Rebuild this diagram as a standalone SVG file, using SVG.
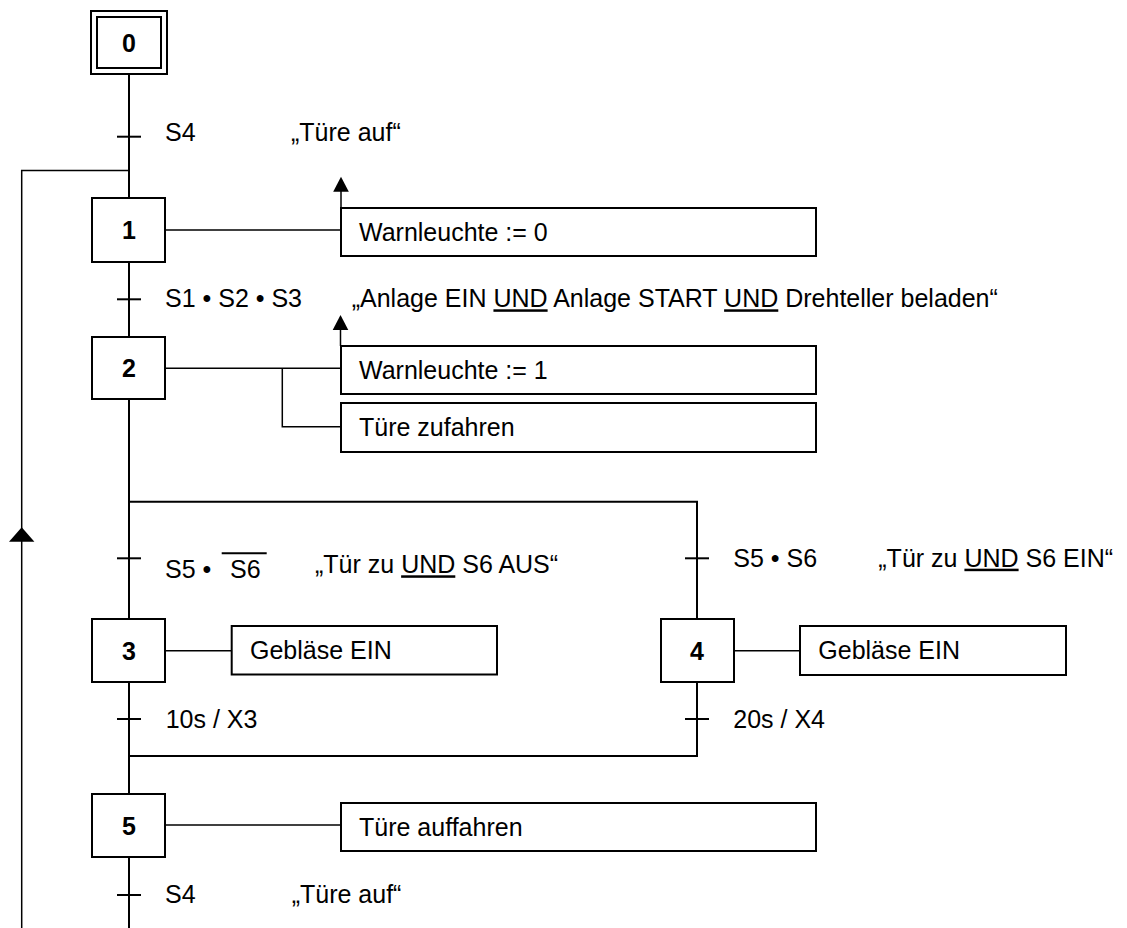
<svg xmlns="http://www.w3.org/2000/svg" width="1127" height="928" viewBox="0 0 1127 928">
<style>
  text { font-family: "Liberation Sans", Arial, sans-serif; font-size: 25px; fill: #000; }
  .num { font-weight: bold; text-anchor: middle; }
  .box { fill: #fff; stroke: #000; stroke-width: 2; }
  .main { fill: none; stroke: #000; stroke-width: 2; }
  .thin { fill: none; stroke: #000; stroke-width: 1.5; }
  .u { text-decoration: underline; }
</style>
<defs>
  <marker id="arr" viewBox="0 0 16 15" refX="8" refY="0" markerWidth="16" markerHeight="15" markerUnits="userSpaceOnUse" orient="auto-start-reverse">
    <path d="M0,15 L8,0 L16,15 Z" fill="#000"/>
  </marker>
</defs>
<rect width="1127" height="928" fill="#fff"/>

<g id="connectors">
  <!-- main vertical chain -->
  <line class="main" x1="129" y1="74" x2="129" y2="198"/>
  <line class="main" x1="129" y1="262" x2="129" y2="337"/>
  <line class="main" x1="129" y1="399" x2="129" y2="619"/>
  <line class="main" x1="129" y1="682" x2="129" y2="794"/>
  <line class="main" x1="129" y1="857" x2="129" y2="928"/>
  <!-- transition ticks -->
  <line class="main" x1="117" y1="136.7" x2="141" y2="136.7"/>
  <line class="main" x1="117" y1="299.3" x2="141" y2="299.3"/>
  <line class="main" x1="117" y1="558.3" x2="141" y2="558.3"/>
  <line class="main" x1="685" y1="558.3" x2="709" y2="558.3"/>
  <line class="main" x1="117" y1="719" x2="141" y2="719"/>
  <line class="main" x1="685" y1="719" x2="709" y2="719"/>
  <line class="main" x1="117" y1="895" x2="141" y2="895"/>
  <!-- divergence / convergence of alternative branch -->
  <polyline class="main" points="129,501.7 697,501.7 697,619"/>
  <polyline class="main" points="697,682 697,756 129,756"/>
  <!-- loop back line -->
  <polyline class="thin" points="21.7,928 21.7,170.5 129,170.5"/>
  <path d="M9,541.7 L21.7,527.3 L34.4,541.7 Z" fill="#000"/>
  <!-- action connections -->
  <line class="thin" x1="165" y1="230" x2="341" y2="230"/>
  <line class="thin" x1="341" y1="208" x2="341" y2="191"/>
  <path d="M333.2,191.7 L341,176.7 L348.8,191.7 Z" fill="#000"/>
  <line class="thin" x1="165" y1="368.3" x2="341" y2="368.3"/>
  <polyline class="thin" points="282.3,368.3 282.3,426.7 341,426.7"/>
  <line class="thin" x1="340.5" y1="346" x2="340.5" y2="329"/>
  <path d="M332.7,330 L340.5,315 L348.3,330 Z" fill="#000"/>
  <line class="thin" x1="165" y1="650.7" x2="231.7" y2="650.7"/>
  <line class="thin" x1="734" y1="650.7" x2="800" y2="650.7"/>
  <line class="thin" x1="165" y1="825" x2="341" y2="825"/>
</g>

<g id="step0">
  <rect class="box" x="91" y="11" width="76" height="63"/>
  <rect class="box" x="97" y="17" width="64" height="51"/>
  <text class="num" x="129" y="51.5">0</text>
</g>
<g id="step1">
  <rect class="box" x="92" y="198" width="73" height="64"/>
  <text class="num" x="129" y="239">1</text>
</g>
<g id="step2">
  <rect class="box" x="92" y="337" width="73" height="62"/>
  <text class="num" x="129" y="377">2</text>
</g>
<g id="step3">
  <rect class="box" x="92" y="619" width="73" height="63"/>
  <text class="num" x="129" y="659.5">3</text>
</g>
<g id="step4">
  <rect class="box" x="661" y="619" width="73" height="63"/>
  <text class="num" x="697" y="659.5">4</text>
</g>
<g id="step5">
  <rect class="box" x="92" y="794" width="73" height="63"/>
  <text class="num" x="129" y="834.5">5</text>
</g>

<g id="action1">
  <rect class="box" x="341" y="208" width="475" height="48"/>
  <text x="359" y="240.5">Warnleuchte := 0</text>
</g>
<g id="action2a">
  <rect class="box" x="341" y="346" width="475" height="48"/>
  <text x="359" y="378.5">Warnleuchte := 1</text>
</g>
<g id="action2b">
  <rect class="box" x="341" y="403" width="475" height="49"/>
  <text x="359" y="436">Türe zufahren</text>
</g>
<g id="action3">
  <rect class="box" x="231.7" y="626" width="265.3" height="48.5"/>
  <text x="250" y="659">Gebläse EIN</text>
</g>
<g id="action4">
  <rect class="box" x="800" y="626" width="266" height="49"/>
  <text x="818.3" y="659">Gebläse EIN</text>
</g>
<g id="action5">
  <rect class="box" x="341" y="803" width="475" height="48"/>
  <text x="359" y="836">Türe auffahren</text>
</g>

<g id="transitions">
  <text x="165" y="140.7">S4</text>
  <text x="291" y="140.7">„Türe auf“</text>
  <text x="165" y="307.3">S1 • S2 • S3</text>
  <text x="351.7" y="307.3">„Anlage EIN <tspan class="u">UND</tspan> Anlage START <tspan class="u">UND</tspan> Drehteller beladen“</text>
  <text x="165" y="577.7">S5 • </text>
  <text x="230" y="577.7">S6</text>
  <line class="main" x1="221.7" y1="553.3" x2="266.7" y2="553.3"/>
  <text x="315" y="573.3">„Tür zu <tspan class="u">UND</tspan> S6 AUS“</text>
  <text x="733.3" y="566.7">S5 • S6</text>
  <text x="878.3" y="566.7">„Tür zu <tspan class="u">UND</tspan> S6 EIN“</text>
  <text x="165.7" y="728.3">10s / X3</text>
  <text x="733.3" y="728.3">20s / X4</text>
  <text x="165" y="903.3">S4</text>
  <text x="291.7" y="903.3">„Türe auf“</text>
</g>
</svg>
